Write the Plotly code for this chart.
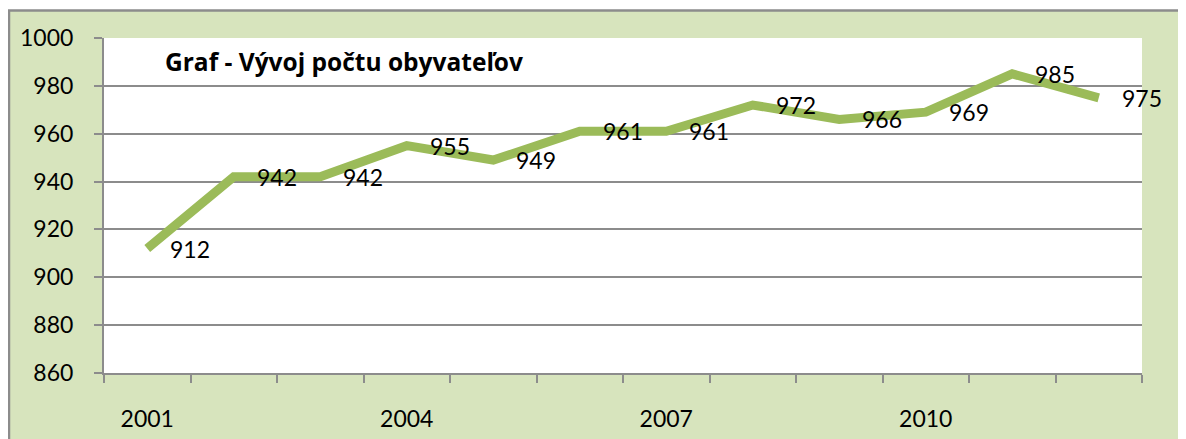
import plotly.graph_objects as go

years = ["2001", "2002", "2003", "2004", "2005", "2006", "2007", "2008", "2009", "2010", "2011", "2012"]
population = [912, 942, 942, 955, 949, 961, 961, 972, 966, 969, 985, 975]
shown_years = ["2001", "2004", "2007", "2010"]
y_ticks = [860, 880, 900, 920, 940, 960, 980, 1000]
title_text = "Graf - Vývoj počtu obyvateľov"

FONT = "Lato"
OFF = 8  # page body margin
W, H = 1186 - OFF, 439 - OFF
L, T = 104 - OFF, 38 - OFF
PW, PH = 1038, 335
R, B = W - L - PW, H - T - PH

def px_x(p):
    return (p - OFF - L) / PW

def px_y(p):
    return 1 - (p - OFF - T) / PH

# category positions on a linear axis
xpos = list(range(len(years)))
boundaries = [i - 0.5 for i in range(len(years) + 1)]
label_pos = [years.index(y) for y in shown_years]

fig = go.Figure()
fig.add_trace(go.Scatter(
    x=xpos, y=population, mode="lines",
    line=dict(color="#9BBB59", width=9),
    text=years, hovertemplate="%{text}: %{y}<extra></extra>",
    showlegend=False,
))

for xp, v in zip(xpos, population):
    fig.add_annotation(x=xp, y=v, xref="x", yref="y", text=str(v),
                       showarrow=False, xanchor="left", yanchor="middle",
                       xshift=21, font=dict(family=FONT, size=23, color="#000"))

fig.add_annotation(x=px_x(163), y=px_y(62), xref="paper", yref="paper",
                   text="<b>" + title_text + "</b>", showarrow=False,
                   xanchor="left", yanchor="middle",
                   font=dict(family="Open Sans", size=24.5, color="#000"))

# green frame
fig.add_shape(type="rect", xref="paper", yref="paper", layer="below",
              x0=px_x(9), x1=px_x(1400), y0=px_y(10.5), y1=px_y(700),
              fillcolor="#D7E4BD", line=dict(color="#8C8C8C", width=2.5))
# white plot area
fig.add_shape(type="rect", xref="paper", yref="paper", layer="below",
              x0=0, x1=1, y0=0, y1=1, fillcolor="#FFFFFF", line=dict(width=0))

fig.update_layout(
    width=W, height=H,
    margin=dict(l=L, r=R, t=T, b=B, autoexpand=False),
    paper_bgcolor="#FFFFFF", plot_bgcolor="#FFFFFF",
    font=dict(family=FONT, size=23, color="#000"),
    xaxis=dict(
        range=[boundaries[0], boundaries[-1]],
        tickmode="array", tickvals=label_pos, ticktext=shown_years,
        ticks="", ticklabelstandoff=24,
        minor=dict(tickmode="array", tickvals=boundaries, ticks="outside",
                   ticklen=8, tickwidth=2, tickcolor="#8C8C8C", showgrid=False),
        showline=True, linecolor="#8C8C8C", linewidth=2,
        showgrid=False, zeroline=False,
        tickfont=dict(family=FONT, size=23, color="#000"),
    ),
    yaxis=dict(
        range=[860, 1000], tickmode="array", tickvals=y_ticks,
        ticks="outside", ticklen=8, tickwidth=2, tickcolor="#8C8C8C",
        showline=True, linecolor="#8C8C8C", linewidth=2,
        showgrid=True, gridcolor="#8C8C8C", gridwidth=2, zeroline=False,
        ticklabelstandoff=16,
        tickfont=dict(family=FONT, size=23, color="#000"),
    ),
)

fig.write_html("out.html")
